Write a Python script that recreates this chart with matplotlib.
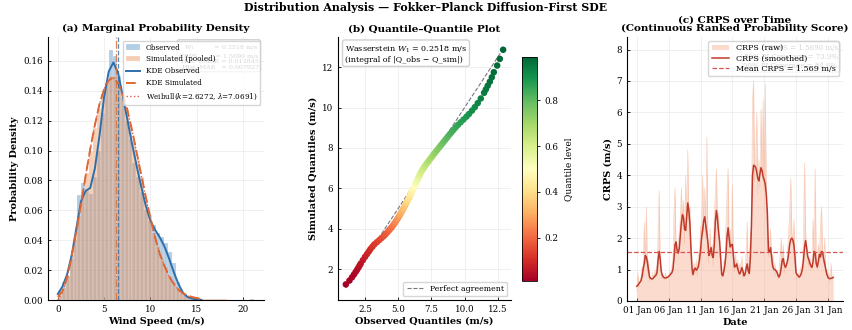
import numpy as np
import pandas as pd
import matplotlib
matplotlib.use("Agg")
import matplotlib.pyplot as plt
import matplotlib.dates as mdates

plt.rcParams['font.family'] = ['DejaVu Serif']
plt.rcParams['mathtext.fontset'] = 'dejavuserif'

# ---- panel (a) data: histogram bins (shared edges) and density heights
bin_lo = 0.0
bin_hi = 21.2
n_bins = 50
obs_hist = [0.006, 0.012, 0.016, 0.030, 0.040, 0.070, 0.078, 0.073, 0.071, 0.082,
            0.100, 0.125, 0.145, 0.167, 0.163, 0.150, 0.135, 0.120, 0.108, 0.092,
            0.082, 0.072, 0.060, 0.053, 0.050, 0.045, 0.042, 0.038, 0.032, 0.025,
            0.012, 0.007, 0.004, 0.002, 0.001, 0.0005, 0.0, 0.0, 0.0, 0.0,
            0.0, 0.0, 0.0, 0.0, 0.0, 0.0, 0.0, 0.0, 0.0, 0.0008]
sim_hist = [0.003, 0.008, 0.016, 0.028, 0.042, 0.056, 0.072, 0.085, 0.100, 0.115,
            0.128, 0.138, 0.145, 0.150, 0.150, 0.146, 0.138, 0.128, 0.118, 0.106,
            0.094, 0.082, 0.066, 0.056, 0.045, 0.036, 0.028, 0.022, 0.016, 0.012,
            0.008, 0.005, 0.004, 0.002, 0.0015, 0.001, 0.0008, 0.0006, 0.0005, 0.0005,
            0.0004, 0.0004, 0.0004, 0.0003, 0.0003, 0.0003, 0.0003, 0.0003, 0.0003, 0.0003]

kde_x = [0.0, 0.5, 1.0, 1.5, 2.0, 2.5, 3.0, 3.5, 4.0, 4.5, 5.0, 5.5, 6.0, 6.5, 7.0, 7.5,
         8.0, 8.5, 9.0, 9.5, 10.0, 10.5, 11.0, 11.5, 12.0, 12.5, 13.0, 13.5, 14.0, 14.5,
         15.0, 15.5]
kde_obs = [0.004, 0.009, 0.017, 0.030, 0.048, 0.066, 0.073, 0.075, 0.088, 0.110,
           0.136, 0.153, 0.159, 0.152, 0.137, 0.121, 0.105, 0.090, 0.076, 0.063,
           0.053, 0.047, 0.042, 0.036, 0.028, 0.019, 0.011, 0.005, 0.002, 0.001,
           0.0004, 0.0001]
kde_sim = [0.002, 0.006, 0.015, 0.029, 0.046, 0.064, 0.083, 0.101, 0.117, 0.131,
           0.141, 0.147, 0.149, 0.145, 0.138, 0.127, 0.114, 0.099, 0.084, 0.069,
           0.055, 0.042, 0.031, 0.023, 0.016, 0.011, 0.007, 0.0045, 0.003, 0.002,
           0.0013, 0.0009]
weibull_pdf = [0.0, 0.0050, 0.0153, 0.0293, 0.0459, 0.0642, 0.0829, 0.1011, 0.1176, 0.1313,
               0.1414, 0.1473, 0.1486, 0.1454, 0.1380, 0.1272, 0.1139, 0.0990, 0.0835, 0.0684,
               0.0543, 0.0419, 0.0312, 0.0226, 0.0158, 0.0108, 0.0071, 0.0044, 0.0027, 0.0016,
               0.0009, 0.0005]
mean_obs = 6.50
mean_sim = 6.33

stats_a = ("$W_1$          = 0.2518 m/s\n"
           "CRPS         = 1.5690 m/s\n"
           "Hist. RMSE = 0.012845\n"
           "Hist. MAE   = 0.007927")

# ---- panel (b) data: quantile levels and matching quantiles
q_levels = np.r_[np.arange(0.01, 0.0501, 0.005), np.arange(0.06, 0.9401, 0.01),
                 np.arange(0.95, 0.9901, 0.005)]
q_sim = [1.25, 1.44, 1.60, 1.74, 1.87, 1.98, 2.09, 2.19, 2.28,
         2.45, 2.61, 2.75, 2.88, 3.00, 3.12, 3.23, 3.34, 3.44, 3.54,
         3.64, 3.73, 3.82, 3.91, 3.99, 4.07, 4.16, 4.24, 4.32, 4.40,
         4.48, 4.55, 4.63, 4.70, 4.77, 4.84, 4.92, 4.99, 5.06, 5.13,
         5.20, 5.27, 5.33, 5.40, 5.47, 5.54, 5.61, 5.67, 5.74, 5.81,
         5.88, 5.95, 6.01, 6.08, 6.15, 6.22, 6.29, 6.35, 6.42, 6.49,
         6.56, 6.63, 6.70, 6.77, 6.84, 6.91, 6.98, 7.05, 7.13, 7.20,
         7.28, 7.35, 7.43, 7.51, 7.59, 7.67, 7.75, 7.84, 7.92, 8.01,
         8.10, 8.19, 8.28, 8.37, 8.47, 8.57, 8.68, 8.79, 8.90, 9.02,
         9.14, 9.27, 9.41, 9.55, 9.68, 9.85, 10.02, 10.22, 10.45,
         10.73, 10.90, 11.08, 11.28, 11.50, 11.75, 12.08, 12.41, 12.86]
q_obs = [1.07, 1.34, 1.53, 1.68, 1.81, 1.92, 2.02, 2.11, 2.19,
         2.35, 2.51, 2.66, 2.80, 2.92, 3.07, 3.21, 3.40, 3.58, 3.75,
         3.92, 4.05, 4.18, 4.30, 4.41, 4.51, 4.61, 4.70, 4.78, 4.86,
         4.94, 5.00, 5.08, 5.14, 5.20, 5.26, 5.33, 5.39, 5.45, 5.51,
         5.56, 5.61, 5.66, 5.72, 5.77, 5.83, 5.88, 5.92, 5.96, 6.01,
         6.06, 6.11, 6.16, 6.21, 6.26, 6.31, 6.36, 6.40, 6.45, 6.50,
         6.55, 6.60, 6.65, 6.70, 6.76, 6.82, 6.89, 6.96, 7.04, 7.12,
         7.21, 7.29, 7.38, 7.48, 7.57, 7.66, 7.75, 7.86, 7.96, 8.07,
         8.18, 8.29, 8.40, 8.51, 8.63, 8.75, 8.89, 9.03, 9.17, 9.33,
         9.50, 9.70, 9.92, 10.14, 10.33, 10.56, 10.77, 10.99, 11.22,
         11.47, 11.60, 11.74, 11.90, 12.05, 12.20, 12.45, 12.65, 12.90]

# ---- panel (c) data: CRPS every 4 hours, 1-31 Jan
crps_start = "2024-01-01"
crps_raw = [0.30, 0.90, 0.45, 0.60, 0.75, 1.10,
            0.80, 2.50, 1.20, 3.00, 0.90, 1.30,
            0.60, 0.80, 0.65, 0.90, 0.70, 1.00,
            0.75, 1.10, 2.00, 3.50, 1.20, 0.90,
            0.70, 0.85, 0.65, 0.90, 0.70, 0.80,
            0.75, 0.95, 0.80, 1.10, 1.30, 2.80,
            3.60, 1.50, 1.40, 1.80, 2.20, 2.60,
            3.60, 2.40, 3.20, 1.80, 4.00, 2.20,
            4.80, 2.60, 3.00, 1.30, 0.80, 1.00,
            1.20, 0.90, 1.30, 0.80, 1.50, 1.40,
            2.40, 1.80, 4.00, 2.20, 3.60, 2.00,
            5.20, 1.50, 1.20, 2.30, 1.40, 1.80,
            1.10, 2.80, 3.40, 4.20, 2.40, 2.80,
            1.50, 1.20, 0.70, 0.90, 1.30, 1.00,
            2.40, 3.50, 4.20, 1.60, 2.30, 1.50,
            3.70, 1.20, 0.90, 1.50, 1.00, 1.30,
            0.80, 1.20, 1.00, 1.40, 0.70, 0.90,
            0.80, 1.60, 2.50, 0.80, 1.10, 2.20,
            2.00, 6.40, 7.00, 3.80, 4.60, 6.00,
            3.40, 4.50, 3.60, 6.10, 4.20, 6.40,
            3.50, 6.90, 3.20, 2.20, 1.40, 1.80,
            2.30, 1.20, 1.50, 0.90, 1.20, 0.80,
            1.00, 0.70, 0.90, 1.50, 2.00, 1.20,
            1.80, 0.90, 1.20, 1.00, 1.60, 2.20,
            2.80, 3.90, 2.20, 1.80, 2.60, 1.20,
            1.00, 0.70, 0.90, 0.70, 1.00, 1.10,
            1.20, 2.00, 4.40, 2.20, 1.60, 1.40,
            1.10, 1.40, 1.00, 1.20, 2.60, 1.60,
            4.20, 1.30, 1.00, 1.80, 1.40, 2.40,
            3.00, 1.60, 1.20, 2.00, 0.90, 1.00,
            0.70, 0.90, 0.60, 1.20, 0.70, 0.80]
crps_smooth = [0.47, 0.50, 0.55, 0.60, 0.65, 0.80,
               1.02, 1.20, 1.45, 1.40, 1.22, 1.00,
               0.76, 0.72, 0.70, 0.71, 0.75, 0.79,
               0.82, 0.90, 1.30, 1.58, 1.35, 0.95,
               0.82, 0.76, 0.74, 0.73, 0.74, 0.76,
               0.78, 0.82, 0.86, 0.90, 1.00, 1.35,
               1.80, 1.88, 1.60, 1.52, 1.68, 2.10,
               2.50, 2.75, 2.65, 2.28, 2.25, 2.70,
               3.12, 2.90, 2.45, 1.70, 1.05, 0.84,
               1.00, 1.05, 0.98, 1.02, 1.10, 1.30,
               1.60, 2.00, 2.25, 2.55, 2.68, 2.40,
               2.15, 1.85, 1.45, 1.55, 1.70, 1.45,
               1.38, 1.80, 2.55, 2.88, 2.60, 2.20,
               1.90, 1.35, 0.85, 0.80, 0.95, 1.15,
               1.50, 2.05, 2.33, 2.00, 1.72, 1.78,
               1.80, 1.45, 1.08, 1.10, 1.18, 1.05,
               0.92, 0.86, 0.95, 1.06, 0.95, 0.80,
               0.85, 1.05, 1.18, 0.95, 0.88, 1.40,
               2.40, 4.00, 4.32, 4.30, 4.25, 4.10,
               3.90, 3.82, 4.05, 4.24, 4.15, 3.95,
               3.85, 3.72, 3.40, 2.80, 1.60, 1.55,
               1.70, 1.40, 1.10, 1.02, 1.00, 0.97,
               0.92, 0.82, 0.76, 0.85, 1.05, 1.30,
               1.35, 1.15, 1.07, 1.15, 1.28, 1.50,
               1.80, 1.95, 2.00, 1.95, 1.78, 1.40,
               0.90, 0.84, 0.80, 0.76, 0.80, 0.88,
               1.02, 1.30, 1.70, 1.92, 1.70, 1.42,
               1.32, 1.20, 1.12, 1.07, 1.25, 1.58,
               1.55, 1.20, 1.08, 1.25, 1.48, 1.40,
               1.58, 1.55, 1.35, 1.18, 1.00, 0.85,
               0.76, 0.72, 0.71, 0.72, 0.73, 0.75]
crps_mean = 1.569
stats_c = ("CRPS = 1.5690 m/s\n"
           "80% PI Coverage = 73.9%\n"
           "90% PI Coverage = 84.6%")

TICK = 6.3
LAB = 7
TIT = 7.5


def style_axes(ax):
    ax.spines['top'].set_visible(False)
    ax.spines['right'].set_visible(False)
    ax.tick_params(labelsize=TICK, direction='in', length=2, width=0.6)
    ax.grid(True, color='#dddddd', lw=0.5, alpha=0.6)
    ax.set_axisbelow(True)
    for s in ['left', 'bottom']:
        ax.spines[s].set_linewidth(0.8)


fig = plt.figure(figsize=(8.52, 3.30), dpi=100)
fig.suptitle("Distribution Analysis \u2014 Fokker\u2013Planck Diffusion-First SDE",
             fontsize=7.9, fontweight='bold', y=0.995, va='top')

# (a) marginal density
ax1 = fig.add_axes([48 / 852, 30 / 330, 216 / 852, 263 / 330])
edges = np.linspace(bin_lo, bin_hi, n_bins + 1)
centers = 0.5 * (edges[:-1] + edges[1:])
width = edges[1] - edges[0]
h_obs = ax1.bar(centers, obs_hist, width=width, color='#4382bb', alpha=0.4,
                edgecolor='white', linewidth=0.3, label='Observed')
h_sim = ax1.bar(centers, sim_hist, width=width, color='#e8884c', alpha=0.42,
                edgecolor='white', linewidth=0.3, label='Simulated (pooled)')
l_ko, = ax1.plot(kde_x, kde_obs, color='#2c6fad', lw=1.4, label='KDE Observed')
l_ks, = ax1.plot(kde_x, kde_sim, color='#e06a2c', lw=1.4, ls=(0, (5, 2.5)),
                 label='KDE Simulated')
l_wb, = ax1.plot(kde_x, weibull_pdf, color='#d6604d', lw=1.0, ls=':',
                 label='Weibull($k$=2.6272, $\\lambda$=7.0691)')
ax1.axvline(mean_obs, color='#2c6fad', lw=0.9, ls='--', alpha=0.8)
ax1.axvline(mean_sim, color='#e06a2c', lw=0.9, ls='-.', alpha=0.8)
ax1.set_ylim(0, 0.176)
ax1.set_xlabel("Wind Speed (m/s)", fontsize=LAB, fontweight='bold', labelpad=2)
ax1.set_ylabel("Probability Density", fontsize=LAB, fontweight='bold', labelpad=3)
ax1.set_title("(a) Marginal Probability Density", fontsize=TIT, fontweight='bold', pad=4)
style_axes(ax1)
ax1.text(0.975, 0.975, stats_a, transform=ax1.transAxes, ha='right', va='top',
         fontsize=4.6, color='#333333',
         bbox=dict(boxstyle='round,pad=0.3', fc='white', ec='#cccccc', alpha=0.9))
ax1.legend([h_obs, h_sim, l_ko, l_ks, l_wb],
           [h.get_label() for h in [h_obs, h_sim, l_ko, l_ks, l_wb]],
           loc='upper right', fontsize=5.2, framealpha=0.8, borderpad=0.4,
           labelspacing=0.55, handlelength=2.0, edgecolor='#cccccc')

# (b) Q-Q plot
ax2 = fig.add_axes([338 / 852, 30 / 330, 173 / 852, 263 / 330])
sc = ax2.scatter(q_obs, q_sim, c=q_levels, cmap='RdYlGn', s=22, edgecolors='none',
                 zorder=3)
lo = min(min(q_obs), min(q_sim))
hi = max(max(q_obs), max(q_sim))
ax2.plot([lo, hi], [lo, hi], color='#555566', lw=0.8, ls='--', alpha=0.8,
         label='Perfect agreement', zorder=2)
ax2.set_xlabel("Observed Quantiles (m/s)", fontsize=LAB, fontweight='bold', labelpad=2)
ax2.set_ylabel("Simulated Quantiles (m/s)", fontsize=LAB, fontweight='bold', labelpad=3)
ax2.set_title("(b) Quantile\u2013Quantile Plot", fontsize=TIT, fontweight='bold', pad=4)
style_axes(ax2)
ax2.text(0.04, 0.975, "Wasserstein $W_1$ = 0.2518 m/s\n(integral of |Q_obs \u2212 Q_sim|)",
         transform=ax2.transAxes, ha='left', va='top', fontsize=5.8,
         bbox=dict(boxstyle='round,pad=0.3', fc='white', ec='#cccccc', alpha=0.9))
ax2.legend(loc='lower right', fontsize=5.6, framealpha=0.8, edgecolor='#cccccc',
           handlelength=2.2)
cax = fig.add_axes([522 / 852, 49 / 330, 15 / 852, 224 / 330])
cb = fig.colorbar(sc, cax=cax)
cb.set_label("Quantile level", fontsize=6.5)
cb.ax.tick_params(labelsize=TICK, length=2, width=0.6)
cb.outline.set_linewidth(0.6)

# (c) CRPS over time
ax3 = fig.add_axes([627 / 852, 29 / 330, 216 / 852, 264 / 330])
times = pd.date_range(crps_start, periods=len(crps_raw), freq='4h')
ax3.fill_between(times, 0, crps_raw, color='#f4a582', alpha=0.4, lw=0,
                 label='CRPS (raw)')
ax3.plot(times, crps_raw, color='#f4a582', lw=0.5, alpha=0.5)
ax3.plot(times, crps_smooth, color='#c0392b', lw=1.1, label='CRPS (smoothed)')
ax3.axhline(crps_mean, color='#d9534f', lw=0.9, ls='--',
            label='Mean CRPS = %.3f m/s' % crps_mean)
ax3.set_ylim(0, max(crps_raw) * 1.2)
ax3.xaxis.set_major_locator(mdates.DayLocator(interval=5))
ax3.xaxis.set_major_formatter(mdates.DateFormatter('%d %b'))
ax3.set_xlabel("Date", fontsize=LAB, fontweight='bold', labelpad=2)
ax3.set_ylabel("CRPS (m/s)", fontsize=LAB, fontweight='bold', labelpad=3)
ax3.set_title("(c) CRPS over Time\n(Continuous Ranked Probability Score)",
              fontsize=TIT, fontweight='bold', pad=4, linespacing=1.0)
style_axes(ax3)
ax3.text(0.975, 0.975, stats_c, transform=ax3.transAxes, ha='right', va='top',
         fontsize=5, color='#333333',
         bbox=dict(boxstyle='round,pad=0.3', fc='white', ec='#cccccc', alpha=0.9))
ax3.legend(loc='upper right', fontsize=5.8, framealpha=0.8, edgecolor='#cccccc',
           borderpad=0.4, labelspacing=0.3, handlelength=2.2)

fig.savefig("out.png", dpi=100)
